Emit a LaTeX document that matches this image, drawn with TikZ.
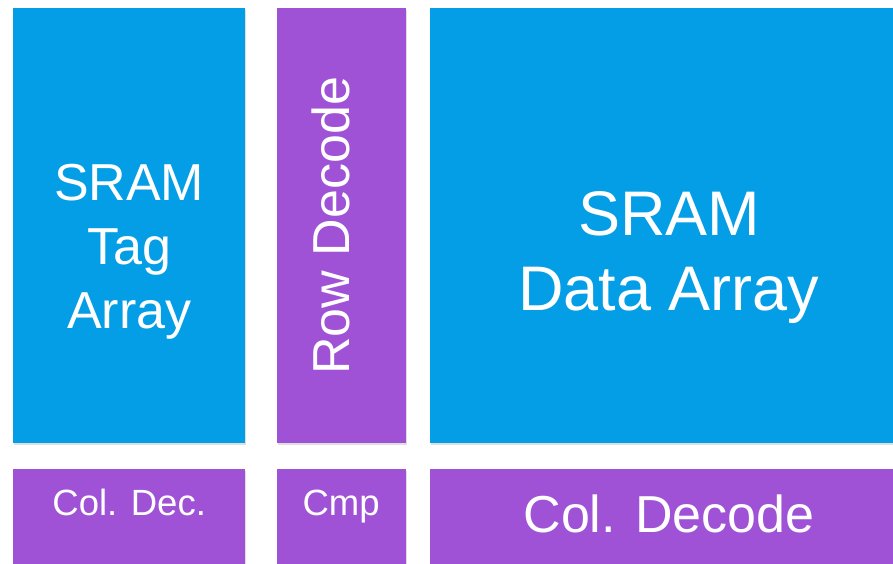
\documentclass[tikz,border=0pt]{standalone}
\usepackage{fontspec}
\setmainfont{Liberation Sans}
\usetikzlibrary{positioning,shadows}
\definecolor{arrblue}{RGB}{3,158,229}
\definecolor{decpurple}{RGB}{160,82,214}
\tikzset{
  arr/.style    = {fill=arrblue, text=white, align=center, inner sep=0pt,
                   drop shadow={opacity=0.25, shadow xshift=1pt, shadow yshift=-2pt}},
  dec/.style    = {fill=decpurple, text=white, align=center, inner sep=0pt,
                   drop shadow={opacity=0.25, shadow xshift=1pt, shadow yshift=-2pt}},
}

\begin{document}
\begin{tikzpicture}[x=1pt, y=1pt, node distance=25pt and 31pt]
  \useasboundingbox (0,0) rectangle (893,563);
  \clip (0,0) rectangle (893,563);
  % top row: arrays and row decoder
  \node[arr, anchor=north west, minimum width=232pt, minimum height=435pt,
        font=\fontsize{52}{64}\selectfont, text height=216pt, text depth=11pt] (tag) at (13,555) {SRAM\\Tag\\Array};
  \node[dec, right=31pt of tag, minimum width=129pt, minimum height=435pt,
        font=\fontsize{52}{62}\selectfont] (row) {\rotatebox{90}{Row Decode}\hspace{21pt}};
  \node[arr, right=24pt of row, minimum width=478pt, minimum height=435pt,
        font=\fontsize{63}{75}\selectfont, text height=182pt, text depth=13pt] (data) {SRAM\\Data Array};
  % bottom row: column decoders and compare
  \node[dec, below=25pt of tag, minimum width=232pt, minimum height=110pt,
        font=\fontsize{36.5}{44}\selectfont, text height=30pt, text depth=46pt] (coldec) {Col. Dec.};
  \node[dec, below=25pt of row, minimum width=129pt, minimum height=110pt,
        font=\fontsize{36.5}{44}\selectfont, text height=30pt, text depth=46pt] (cmp) {Cmp};
  \node[dec, below=25pt of data, minimum width=478pt, minimum height=110pt,
        font=\fontsize{52}{62}\selectfont, text height=40pt, text depth=22pt] (coldecode) {Col. Decode};
\end{tikzpicture}
\end{document}
